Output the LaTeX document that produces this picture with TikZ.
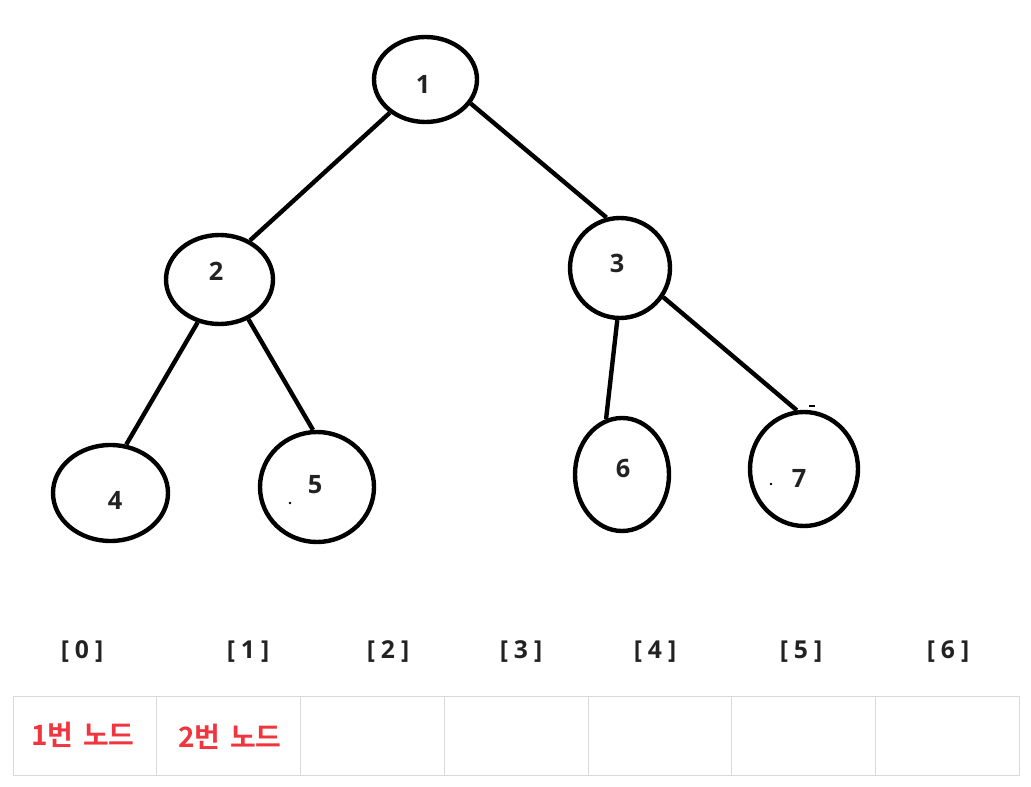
\documentclass[tikz,border=0pt]{standalone}
\usepackage{fontspec}
\setmainfont{Open Sans}
\newfontfamily\kr{Noto Sans CJK KR Bold}
\usetikzlibrary{shapes.geometric}
\definecolor{ink}{HTML}{222222}
\definecolor{redtxt}{HTML}{F0353F}
\definecolor{grid}{HTML}{D9D9D9}
\newcommand{\idxlab}[1]{[\hspace{4.5pt}#1\hspace{4.5pt}]}
\tikzset{
  tnode/.style 2 args={ellipse, draw=black, line width=3.3pt, inner sep=0pt,
    minimum width=#1*1.5pt, minimum height=#2*1.5pt},
  num/.style={font=\fontsize{19}{20}\selectfont\bfseries, text=ink, inner sep=0pt},
  idx/.style={font=\fontsize{18.5}{20}\selectfont\bfseries, text=ink, inner sep=0pt},
  edge/.style={line width=3.3pt, black},
  cell/.style={draw=grid, line width=0.75pt},
  krtxt/.style={font=\kr\fontsize{21}{22}\selectfont, text=redtxt, inner sep=0pt},
}
\begin{document}
\begin{tikzpicture}[x=0.75pt,y=-0.75pt]
\useasboundingbox (0,0) rectangle (1031,787);
% tree nodes
\node[tnode={51.5}{42.5}] (n1) at (425.5,79.5) {};
\node[tnode={53.5}{44.5}] (n2) at (219.5,279.5) {};
\node[tnode={50}{50}] (n3) at (620,268) {};
\node[tnode={57.5}{48}] (n4) at (110.5,493) {};
\node[tnode={57}{55}] (n5) at (317,487) {};
\node[tnode={47}{56.5}] (n6) at (622,474.5) {};
\node[tnode={54}{57}] (n7) at (804,469) {};
% labels
\node[num] (l1) at (423,84) {1};
\node[num] (l2) at (216,271) {2};
\node[num] (l3) at (617,263) {3};
\node[num] (l4) at (115,500) {4};
\node[num] (l5) at (315,485) {5};
\node[num] (l6) at (623,468) {6};
\node[num] (l7) at (799,478) {7};
% stray marks
\fill (290,503) circle (1pt);
\fill (771,484) circle (1pt);
\fill (809,405.5) rectangle (815,407);
% edges
\draw[edge] (n1.223) -- (n2.52);
\draw[edge] (n1.332) -- (n3.105);
\draw[edge] (n2.243) -- (n4.72);
\draw[edge] (n2.306) -- (n5.94);
\draw[edge] (n3.267) -- (n6.106);
\draw[edge] (n3.326) -- (n7.97);
% index labels
\node[idx] (i0) at (82,652) {\idxlab{0}};
\node[idx] (i1) at (248,652) {\idxlab{1}};
\node[idx] (i2) at (388,652) {\idxlab{2}};
\node[idx] (i3) at (521,652) {\idxlab{3}};
\node[idx] (i4) at (655,652) {\idxlab{4}};
\node[idx] (i5) at (801,652) {\idxlab{5}};
\node[idx] (i6) at (948,652) {\idxlab{6}};
% table
\foreach \a/\b in {13/156,156/300,300/444,444/588,588/731,731/875,875/1019}{
  \draw[cell] (\a,696.5) rectangle (\b,775.5);
}
\node[krtxt] (t0) at (83,735) {1번\hspace{7pt}노드};
\node[krtxt] (t1) at (230,737) {2번\hspace{7pt}노드};
\end{tikzpicture}
\end{document}
